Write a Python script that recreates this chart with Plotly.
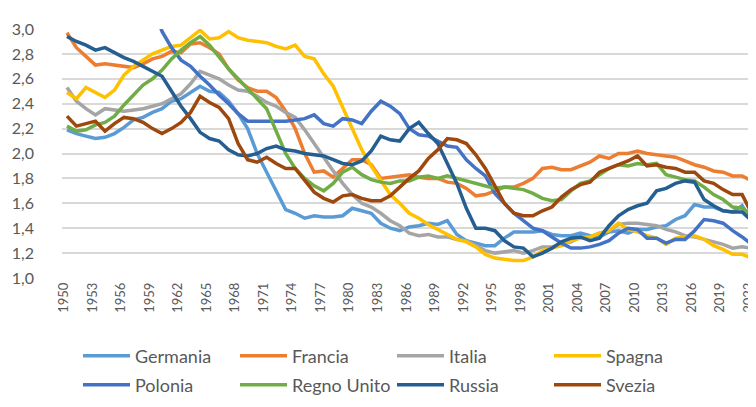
import plotly.graph_objects as go

years = list(range(1950, 2024))
tick_years = [1950, 1953, 1956, 1959, 1962, 1965, 1968, 1971, 1974, 1977, 1980, 1983,
              1986, 1989, 1992, 1995, 1998, 2001, 2004, 2007, 2010, 2013, 2016, 2019, 2022]
tick_labels = [str(y) for y in tick_years]
y_ticks = [1.0, 1.2, 1.4, 1.6, 1.8, 2.0, 2.2, 2.4, 2.6, 2.8, 3.0]

germania = [2.19, 2.16, 2.14, 2.12, 2.13, 2.16, 2.21, 2.27, 2.29, 2.33,
            2.36, 2.42, 2.44, 2.49, 2.54, 2.50, 2.49, 2.42, 2.32, 2.20,
            2.00, 1.85, 1.70, 1.55, 1.52, 1.48, 1.50, 1.49, 1.49, 1.50,
            1.56, 1.54, 1.52, 1.44, 1.40, 1.38, 1.41, 1.42, 1.44, 1.43,
            1.46, 1.35, 1.30, 1.28, 1.26, 1.26, 1.32, 1.37, 1.37, 1.37,
            1.38, 1.35, 1.34, 1.34, 1.36, 1.34, 1.33, 1.37, 1.38, 1.36,
            1.39, 1.39, 1.41, 1.42, 1.47, 1.50, 1.59, 1.57, 1.57, 1.54,
            1.53, 1.58, 1.46, 1.35]
francia = [2.97, 2.85, 2.78, 2.71, 2.72, 2.71, 2.70, 2.69, 2.72, 2.76,
           2.78, 2.82, 2.81, 2.88, 2.89, 2.85, 2.80, 2.68, 2.59, 2.53,
           2.50, 2.50, 2.45, 2.34, 2.20, 2.00, 1.85, 1.86, 1.81, 1.88,
           1.95, 1.95, 1.91, 1.80, 1.81, 1.82, 1.83, 1.81, 1.80, 1.80,
           1.77, 1.76, 1.72, 1.66, 1.67, 1.70, 1.73, 1.73, 1.76, 1.80,
           1.88, 1.89, 1.87, 1.87, 1.90, 1.93, 1.98, 1.96, 2.00, 2.00,
           2.02, 2.00, 1.99, 1.98, 1.97, 1.94, 1.91, 1.89, 1.86, 1.85,
           1.82, 1.82, 1.78, 1.67]
italia = [2.53, 2.42, 2.36, 2.31, 2.36, 2.35, 2.34, 2.35, 2.36, 2.38,
          2.40, 2.44, 2.48, 2.56, 2.66, 2.63, 2.60, 2.55, 2.51, 2.50,
          2.46, 2.41, 2.38, 2.33, 2.29, 2.19, 2.08, 1.96, 1.86, 1.76,
          1.67, 1.60, 1.57, 1.52, 1.46, 1.42, 1.36, 1.34, 1.35, 1.33,
          1.33, 1.31, 1.30, 1.26, 1.22, 1.20, 1.21, 1.22, 1.20, 1.22,
          1.25, 1.25, 1.27, 1.29, 1.33, 1.33, 1.36, 1.38, 1.43, 1.44,
          1.44, 1.43, 1.42, 1.39, 1.37, 1.34, 1.33, 1.31, 1.29, 1.27,
          1.24, 1.25, 1.24, 1.20]
spagna = [2.49, 2.44, 2.53, 2.49, 2.45, 2.51, 2.63, 2.70, 2.75, 2.80,
          2.83, 2.86, 2.87, 2.93, 2.99, 2.92, 2.93, 2.98, 2.93, 2.91,
          2.90, 2.89, 2.86, 2.84, 2.87, 2.78, 2.76, 2.64, 2.54, 2.37,
          2.20, 2.03, 1.90, 1.78, 1.67, 1.60, 1.52, 1.48, 1.43, 1.39,
          1.35, 1.31, 1.29, 1.25, 1.19, 1.16, 1.15, 1.14, 1.14, 1.17,
          1.22, 1.24, 1.26, 1.30, 1.32, 1.33, 1.36, 1.38, 1.44, 1.39,
          1.37, 1.34, 1.32, 1.27, 1.32, 1.33, 1.34, 1.31, 1.26, 1.23,
          1.19, 1.19, 1.16, 1.12]
polonia = [3.71, 3.76, 3.68, 3.62, 3.61, 3.60, 3.56, 3.50, 3.36, 3.20,
           2.98, 2.85, 2.75, 2.70, 2.62, 2.55, 2.47, 2.40, 2.32, 2.26,
           2.26, 2.26, 2.26, 2.26, 2.27, 2.28, 2.31, 2.24, 2.22, 2.28,
           2.27, 2.24, 2.34, 2.42, 2.38, 2.32, 2.20, 2.15, 2.14, 2.10,
           2.06, 2.05, 1.95, 1.88, 1.82, 1.68, 1.60, 1.52, 1.46, 1.40,
           1.38, 1.33, 1.28, 1.24, 1.24, 1.25, 1.27, 1.30, 1.36, 1.40,
           1.39, 1.32, 1.32, 1.28, 1.31, 1.31, 1.38, 1.47, 1.46, 1.44,
           1.38, 1.33, 1.27, 1.17]
regno_unito = [2.22, 2.18, 2.19, 2.23, 2.25, 2.30, 2.39, 2.47, 2.55, 2.60,
               2.67, 2.76, 2.83, 2.89, 2.94, 2.87, 2.77, 2.68, 2.60, 2.52,
               2.45, 2.36, 2.18, 2.00, 1.88, 1.80, 1.74, 1.70, 1.76, 1.85,
               1.89, 1.83, 1.79, 1.77, 1.76, 1.78, 1.78, 1.81, 1.82, 1.80,
               1.82, 1.80, 1.78, 1.76, 1.74, 1.72, 1.73, 1.72, 1.71, 1.68,
               1.64, 1.62, 1.63, 1.70, 1.76, 1.78, 1.83, 1.88, 1.91, 1.90,
               1.92, 1.91, 1.92, 1.83, 1.81, 1.79, 1.78, 1.73, 1.67, 1.63,
               1.57, 1.56, 1.51, 1.45]
russia = [2.94, 2.90, 2.87, 2.83, 2.85, 2.81, 2.77, 2.74, 2.70, 2.66,
          2.62, 2.50, 2.38, 2.28, 2.17, 2.12, 2.10, 2.03, 1.99, 1.98,
          2.00, 2.04, 2.06, 2.03, 2.02, 2.00, 1.99, 1.98, 1.95, 1.92,
          1.91, 1.94, 2.02, 2.14, 2.11, 2.10, 2.20, 2.25, 2.16, 2.08,
          1.92, 1.76, 1.56, 1.40, 1.40, 1.38, 1.30, 1.25, 1.24, 1.17,
          1.20, 1.24, 1.29, 1.32, 1.33, 1.30, 1.32, 1.42, 1.50, 1.55,
          1.58, 1.60, 1.70, 1.72, 1.76, 1.78, 1.77, 1.63, 1.58, 1.54,
          1.53, 1.53, 1.46, 1.42]
svezia = [2.30, 2.22, 2.24, 2.26, 2.18, 2.24, 2.29, 2.28, 2.25, 2.20,
          2.16, 2.20, 2.25, 2.33, 2.46, 2.41, 2.37, 2.28, 2.08, 1.95,
          1.93, 1.97, 1.92, 1.88, 1.88, 1.79, 1.69, 1.64, 1.61, 1.66,
          1.67, 1.64, 1.62, 1.62, 1.66, 1.73, 1.80, 1.86, 1.96, 2.03,
          2.12, 2.11, 2.08, 1.99, 1.88, 1.74, 1.60, 1.52, 1.50, 1.50,
          1.54, 1.57, 1.65, 1.71, 1.75, 1.77, 1.85, 1.88, 1.91, 1.94,
          1.98, 1.90, 1.91, 1.89, 1.88, 1.85, 1.85, 1.78, 1.76, 1.71,
          1.67, 1.67, 1.52, 1.45]

series_names = ["Germania", "Francia", "Italia", "Spagna",
                "Polonia", "Regno Unito", "Russia", "Svezia"]
series_values = [germania, francia, italia, spagna,
                 polonia, regno_unito, russia, svezia]
series_colors = ["#5B9BD5", "#ED7D31", "#A5A5A5", "#FFC000",
                 "#4472C4", "#70AD47", "#255E91", "#9E480E"]

FONT = "Lato, 'Open Sans', sans-serif"
TXT = "#595959"

fig = go.Figure()
for i, (name, vals, col) in enumerate(zip(series_names, series_values, series_colors)):
    fig.add_trace(go.Scatter(x=years, y=vals, mode="lines", name=name,
                             legend="legend" if i < 4 else "legend2",
                             line=dict(color=col, width=3.5)))

legend_common = dict(
    orientation="h",
    xref="container", yref="container",
    xanchor="left", yanchor="middle",
    entrywidth=95, entrywidthmode="pixels",
    itemwidth=47,
    font=dict(family=FONT, size=18, color=TXT),
    traceorder="normal",
    bgcolor="rgba(0,0,0,0)",
)

fig.update_layout(
    width=756, height=407,
    margin=dict(l=54, r=0, t=21, b=137),
    paper_bgcolor="white", plot_bgcolor="white",
    separators=",.",
    font=dict(family=FONT, color=TXT),
    showlegend=True,
    legend=dict(legend_common, x=70 / 756, y=1 - 348 / 407),
    legend2=dict(legend_common, x=70 / 756, y=1 - 377 / 407),
    xaxis=dict(
        range=[1949.48, 2023.3],
        tickmode="array", tickvals=tick_years, ticktext=tick_labels,
        tickangle=-90,
        tickfont=dict(family=FONT, size=13, color=TXT),
        showgrid=False, zeroline=False, showline=False, ticks="",
        ticklabelstandoff=1, ticklabelshift=-3, ticklabeloverflow="allow",
    ),
    yaxis=dict(
        range=[1.0, 3.0],
        tickmode="array", tickvals=y_ticks,
        tickformat=".1f",
        tickfont=dict(family=FONT, size=16, color=TXT),
        showgrid=True, gridcolor="#D9D9D9", gridwidth=1.5,
        zeroline=False, showline=False, ticks="",
        ticklabelstandoff=27,
    ),
)

fig.write_html("out.html")
